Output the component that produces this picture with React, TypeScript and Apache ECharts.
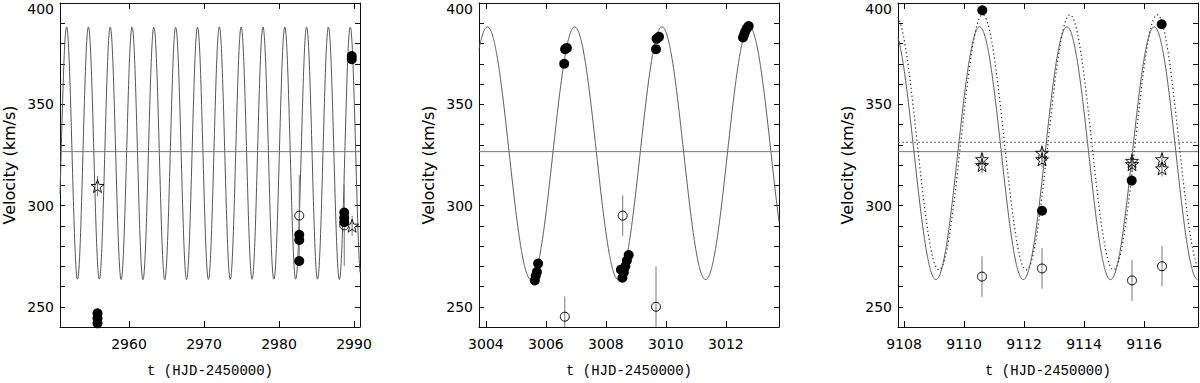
import React, { useEffect, useRef } from "react";
import * as echarts from "echarts";

// ---- axis ranges & ticks ----
const xRanges: [number, number][] = [
  [2950.8, 2990.8],
  [3003.77, 3013.77],
  [9107.8, 9117.8],
];
const xTickValues: number[][] = [
  [2960, 2970, 2980, 2990],
  [3004, 3006, 3008, 3010, 3012],
  [9108, 9110, 9112, 9114, 9116],
];
const yMin = 240;
const yMax = 400;
const yTickStep = 10;
const yLabelStep = 50;

// ---- orbital model parameters ----
const period = 2.9095;
const solidGamma = 325.8;
const solidK = 62.4;
const solidTmax = [3004.05, 3004.05, 9110.52];
const systemicLine = 326.6;
const dottedGamma = 331.2;
const dottedK = 63.0;
const dottedTmax = 9110.62;

// ---- panel 1 data [t, v] / [t, v, err] ----
const p1Filled: number[][] = [
  [2955.8, 246.8], [2955.8, 244.3], [2955.8, 241.8],
  [2982.7, 285.5], [2982.7, 283.0], [2982.7, 272.6],
  [2988.7, 296.5], [2988.7, 294.0], [2988.7, 291.8],
  [2989.7, 373.8], [2989.7, 372.2],
];
const p1Open: number[][] = [
  [2982.7, 295.0, 20],
  [2988.7, 290.2, 20],
];
const p1Stars: number[][] = [
  [2955.8, 309.6, 5],
  [2989.75, 290.0, 5],
];

// ---- panel 2 data ----
const p2Filled: number[][] = [
  [3005.63, 263.0], [3005.66, 265.2], [3005.70, 267.2], [3005.74, 271.3],
  [3006.61, 370.0], [3006.64, 377.2], [3006.70, 377.8],
  [3008.55, 264.3], [3008.50, 268.3], [3008.60, 267.0], [3008.65, 270.0], [3008.70, 272.8], [3008.76, 275.5],
  [3009.67, 377.2], [3009.69, 382.3], [3009.77, 383.3],
  [3012.57, 383.0], [3012.61, 384.5], [3012.65, 386.0], [3012.70, 387.5], [3012.76, 388.6],
];
const p2Open: number[][] = [
  [3006.63, 245.1, 10],
  [3008.56, 295.0, 10],
  [3009.67, 250.0, 20],
];
const p2Stars: number[][] = [];

// ---- panel 3 data ----
const p3Filled: number[][] = [
  [9110.61, 396.4], [9112.60, 297.4], [9115.59, 312.3], [9116.59, 389.5],
];
const p3Open: number[][] = [
  [9110.6, 264.9, 10], [9112.6, 268.9, 10], [9115.6, 263.0, 10], [9116.6, 270.0, 10],
];
const p3Stars: number[][] = [
  [9110.6, 322.8, 4], [9110.6, 319.9, 4],
  [9112.6, 326.0, 4], [9112.6, 322.8, 4],
  [9115.6, 322.0, 4], [9115.6, 320.4, 4],
  [9116.6, 322.8, 4], [9116.6, 318.3, 4],
];

const panelsFilled = [p1Filled, p2Filled, p3Filled];
const panelsOpen = [p1Open, p2Open, p3Open];
const panelsStars = [p1Stars, p2Stars, p3Stars];

const gridLefts = [60, 479, 898];
const gridTop = 3;
const gridW = 300;
const gridH = 331;

const STAR =
  "path://M0,-10 L2.35,-3.24 L9.51,-3.09 L3.8,1.24 L5.88,8.09 L0,4 L-5.88,8.09 L-3.8,1.24 L-9.51,-3.09 L-2.35,-3.24 Z";

function model(x0: number, x1: number, gamma: number, K: number, tMax: number) {
  const n = 1500;
  const out: number[][] = [];
  for (let i = 0; i <= n; i++) {
    const t = x0 + ((x1 - x0) * i) / n;
    out.push([t, gamma + K * Math.cos((2 * Math.PI * (t - tMax)) / period)]);
  }
  return out;
}

const sansFont = "DejaVu Sans";

function buildOption() {
  const grid: any[] = [];
  const xAxis: any[] = [];
  const yAxis: any[] = [];
  const series: any[] = [];
  for (let i = 0; i < 3; i++) {
    grid.push({ left: gridLefts[i], top: gridTop, width: gridW, height: gridH, containLabel: false });
    const [x0, x1] = xRanges[i];
    const baseX = {
      gridIndex: i, type: "value", min: x0, max: x1,
      splitLine: { show: false },
      axisLine: { show: true, onZero: false, lineStyle: { color: "#111", width: 1 } },
      axisTick: { show: true, inside: true, length: 6, customValues: xTickValues[i], lineStyle: { color: "#111" } },
    };
    xAxis.push({
      ...baseX, position: "bottom",
      axisLabel: { show: true, customValues: xTickValues[i], margin: 10, fontFamily: sansFont, fontSize: 14, color: "#000", formatter: (v: number) => String(v) },
      name: "t (HJD-2450000)", nameLocation: "middle", nameGap: 37,
      nameTextStyle: { fontFamily: "Liberation Mono", fontSize: 14, color: "#000" },
    });
    xAxis.push({ ...baseX, position: "top", axisLabel: { show: false } });
    const baseY = {
      gridIndex: i, type: "value", min: yMin, max: yMax, interval: yTickStep,
      splitLine: { show: false },
      axisLine: { show: true, onZero: false, lineStyle: { color: "#111", width: 1 } },
      axisTick: { show: true, inside: true, length: 5, lineStyle: { color: "#111" } },
    };
    yAxis.push({
      ...baseY, position: "left",
      axisLabel: {
        show: true, margin: 6, fontFamily: sansFont, fontSize: 14, color: "#000",
        formatter: (v: number) => (v % yLabelStep === 0 ? (v === yMax ? "{top|" + v + "}" : String(v)) : ""),
        rich: { top: { fontFamily: sansFont, fontSize: 14, color: "#000", padding: [11, 0, 0, 0] } },
      },
      name: "Velocity (km/s)", nameLocation: "middle", nameGap: 43, nameRotate: 90,
      nameTextStyle: { fontFamily: sansFont, fontSize: 16, color: "#000" },
    });
    yAxis.push({ ...baseY, position: "right", axisLabel: { show: false } });

    const xi = i * 2;
    const yi = i * 2;
    series.push({
      type: "line", xAxisIndex: xi, yAxisIndex: yi, showSymbol: false, silent: true,
      data: model(x0, x1, solidGamma, solidK, solidTmax[i]),
      lineStyle: { color: "#555", width: 1 }, z: 1,
    });
    series.push({
      type: "line", xAxisIndex: xi, yAxisIndex: yi, showSymbol: false, silent: true,
      data: [[x0, systemicLine], [x1, systemicLine]],
      lineStyle: { color: "#777", width: 1 }, z: 1,
    });
    if (i === 2) {
      series.push({
        type: "line", xAxisIndex: xi, yAxisIndex: yi, showSymbol: false, silent: true,
        data: model(x0, x1, dottedGamma, dottedK, dottedTmax),
        lineStyle: { color: "#222", width: 1.2, type: [1.2, 2.8] }, z: 1,
      });
      series.push({
        type: "line", xAxisIndex: xi, yAxisIndex: yi, showSymbol: false, silent: true,
        data: [[x0, dottedGamma], [x1, dottedGamma]],
        lineStyle: { color: "#666", width: 1, type: [2, 2] }, z: 1,
      });
    }
    const errData = [...panelsOpen[i], ...panelsStars[i]];
    series.push({
      type: "custom", xAxisIndex: xi, yAxisIndex: yi, clip: true, silent: true, z: 2,
      encode: { x: 0, y: 1 },
      data: errData,
      renderItem: (params: any, api: any) => {
        const x = api.value(0), y = api.value(1), e = api.value(2);
        const a = api.coord([x, y - e]);
        const b = api.coord([x, y + e]);
        return { type: "line", shape: { x1: a[0], y1: a[1], x2: b[0], y2: b[1] }, style: { stroke: "#777", lineWidth: 1 } };
      },
    });
    series.push({
      type: "scatter", xAxisIndex: xi, yAxisIndex: yi, silent: true, z: 3,
      data: panelsOpen[i].map((d) => [d[0], d[1]]),
      symbol: "circle", symbolSize: 9,
      itemStyle: { color: "rgba(0,0,0,0)", borderColor: "#000", borderWidth: 1, opacity: 1 },
    });
    series.push({
      type: "scatter", xAxisIndex: xi, yAxisIndex: yi, silent: true, z: 4,
      data: panelsStars[i].map((d) => [d[0], d[1]]),
      symbol: STAR, symbolSize: 13,
      itemStyle: { color: "rgba(0,0,0,0)", borderColor: "#000", borderWidth: 0.9, opacity: 1 },
    });
    series.push({
      type: "scatter", xAxisIndex: xi, yAxisIndex: yi, silent: true, z: 5,
      data: panelsFilled[i],
      symbol: "circle", symbolSize: 10,
      itemStyle: { color: "#000", opacity: 1 },
    });
  }
  return { animation: false, backgroundColor: "#fff", grid, xAxis, yAxis, series };
}

export default function App() {
  const ref = useRef<HTMLDivElement>(null);
  useEffect(() => {
    if (!ref.current) return;
    const chart = echarts.init(ref.current, null, { renderer: "svg" });
    chart.setOption(buildOption() as any);
    return () => chart.dispose();
  }, []);
  return (
    <div
      ref={ref}
      style={{ position: "fixed", left: 0, top: 0, width: 1200, height: 383, background: "#fff" }}
    />
  );
}
